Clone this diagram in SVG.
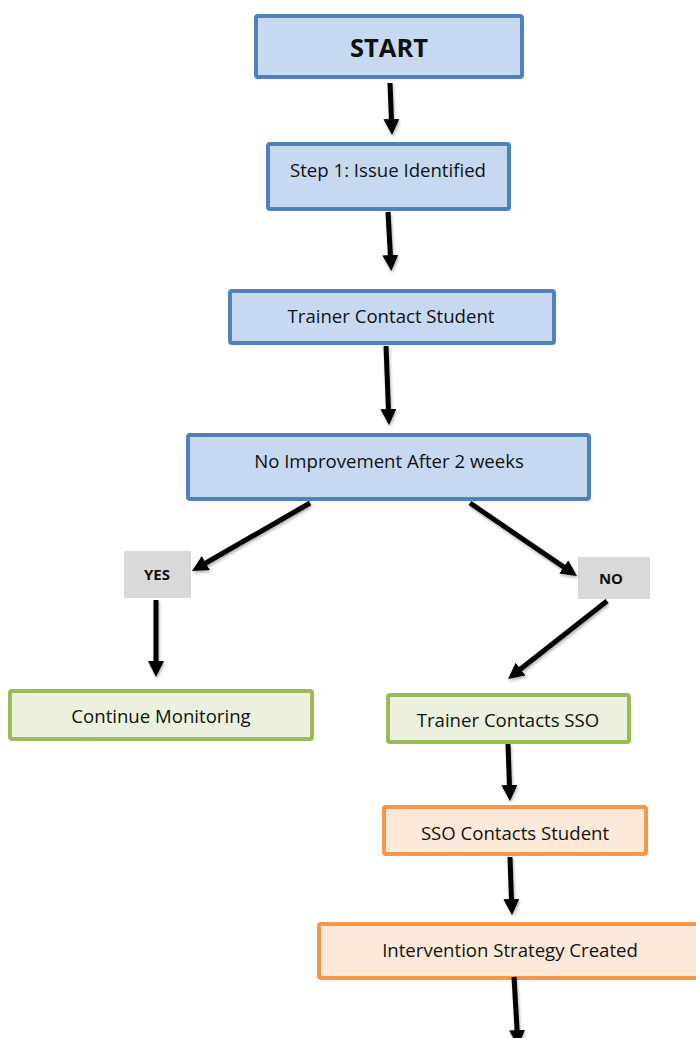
<svg xmlns="http://www.w3.org/2000/svg" width="696" height="1038" viewBox="0 0 696 1038">
<style>
  .blue{fill:#c6d9f0;stroke:#4f81bd;stroke-width:4}
  .green{fill:#ebf1de;stroke:#9bbb59;stroke-width:4}
  .orange{fill:#fde9d9;stroke:#f79646;stroke-width:4}
  .gray{fill:#d9d9d9}
  .t{font-family:"Open Sans","Liberation Sans",sans-serif;font-size:18.6px;fill:#111;text-anchor:middle}
  .big{font-size:25.5px;font-weight:bold}
  .lbl{font-size:15px;font-weight:bold}
  .c{stroke:#000;stroke-width:5;fill:none;marker-end:url(#ah)}
</style>
<defs>
  <marker id="ah" viewBox="0 0 16 16" markerWidth="16" markerHeight="16" markerUnits="userSpaceOnUse" refX="2" refY="8" orient="auto">
    <path d="M0,0 L16,8 L0,16 z" fill="#000"/>
  </marker>
  <filter id="sh" x="-20%" y="-20%" width="140%" height="140%">
    <feDropShadow dx="1" dy="2" stdDeviation="1.5" flood-color="#000" flood-opacity="0.3"/>
  </filter>
</defs>
<g id="start"><rect class="blue" x="256" y="16" width="266" height="61" rx="2"/><text class="t big" x="389" y="57">START</text></g>
<g id="step1"><rect class="blue" x="268" y="144" width="241" height="65" rx="2"/><text class="t" x="388" y="177">Step 1: Issue Identified</text></g>
<g id="trainer-contact"><rect class="blue" x="230" y="291" width="324" height="52" rx="2"/><text class="t" x="391" y="323">Trainer Contact Student</text></g>
<g id="no-improvement"><rect class="blue" x="188" y="435" width="401" height="64" rx="2"/><text class="t" x="389" y="468">No Improvement After 2 weeks</text></g>
<g id="yes"><rect class="gray" x="124" y="551" width="67" height="47"/><text class="t lbl" x="157" y="580">YES</text></g>
<g id="no"><rect class="gray" x="578" y="557" width="72" height="42"/><text class="t lbl" x="611" y="584">NO</text></g>
<g id="continue"><rect class="green" x="10" y="691" width="302" height="48" rx="2"/><text class="t" x="161" y="723">Continue Monitoring</text></g>
<g id="trainer-sso"><rect class="green" x="388" y="695" width="241" height="47" rx="2"/><text class="t" x="508" y="727">Trainer Contacts SSO</text></g>
<g id="sso-student"><rect class="orange" x="384" y="807" width="262" height="47" rx="2"/><text class="t" x="515" y="840">SSO Contacts Student</text></g>
<g id="intervention"><rect class="orange" x="319" y="924" width="400" height="54" rx="2"/><text class="t" x="510" y="957">Intervention Strategy Created</text></g>
<g id="connectors" filter="url(#sh)">
  <line class="c" x1="390" y1="83" x2="391.5" y2="121"/>
  <line class="c" x1="388" y1="212" x2="390.5" y2="257"/>
  <line class="c" x1="386" y1="346" x2="388.5" y2="411"/>
  <line class="c" x1="310" y1="503" x2="204.1" y2="564"/>
  <line class="c" x1="470" y1="503" x2="565.4" y2="568.1"/>
  <line class="c" x1="156" y1="600" x2="156" y2="663"/>
  <line class="c" x1="607" y1="601" x2="519" y2="670.3"/>
  <line class="c" x1="508" y1="744" x2="509.5" y2="787"/>
  <line class="c" x1="510" y1="857" x2="511.5" y2="901"/>
  <line class="c" x1="514" y1="977" x2="517.2" y2="1032"/>
</g>
</svg>
